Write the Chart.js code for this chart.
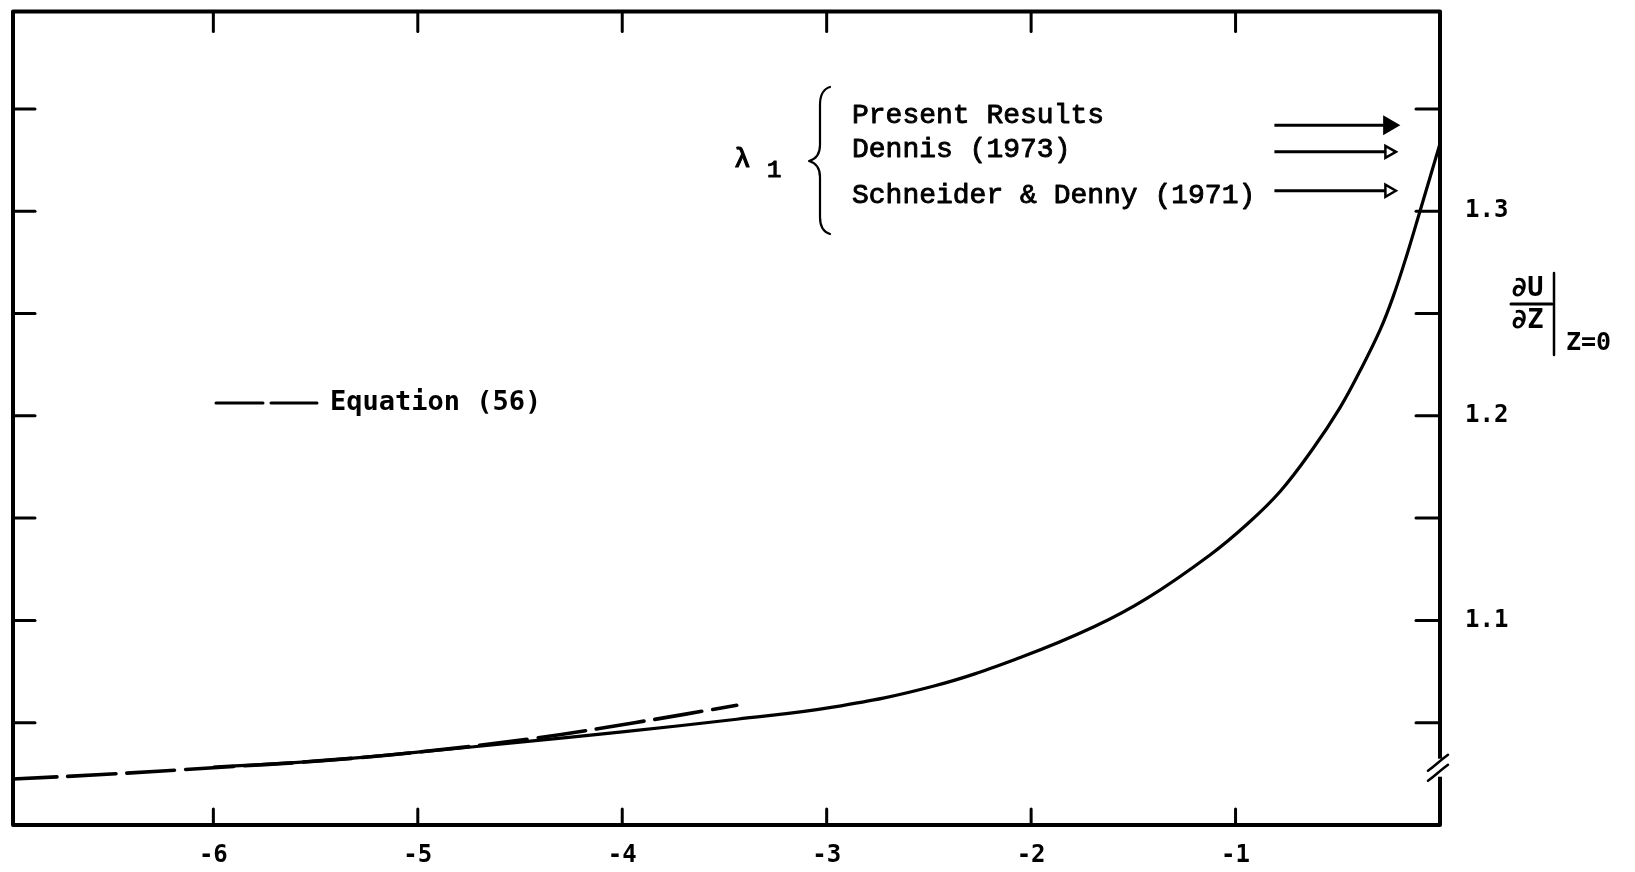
<!DOCTYPE html>
<html>
<head>
<meta charset="utf-8">
<script src="https://cdn.jsdelivr.net/npm/chart.js@4.4.1/dist/chart.umd.min.js"></script>
<style>
  html, body { margin: 0; padding: 0; background: #fff; }
  #wrap { width: 1635px; height: 872px; position: relative; }
</style>
</head>
<body>
<div id="wrap"><canvas id="chart"></canvas></div>
<script>
// solid curve: du/dz at z=0 vs x
const curveX = [-6.0, -5.5, -5.0, -4.5, -4.0, -3.44, -2.97, -2.48, -2.05, -1.69, -1.43, -1.125, -0.944, -0.782, -0.621, -0.489, -0.391, -0.293, -0.230, -0.161, -0.098, 0];
const curveY = [1.0283, 1.0312, 1.0356, 1.0405, 1.0455, 1.0517, 1.0576, 1.0678, 1.082, 1.097, 1.111, 1.132, 1.147, 1.163, 1.184, 1.204, 1.222, 1.242, 1.258, 1.279, 1.300, 1.333];

// dashed: Equation (56)
const eqX = [-7.0, -6.5, -6.0, -5.5, -5.0, -4.43, -3.94, -3.44];
const eqY = [1.0224, 1.0249, 1.0280, 1.0312, 1.0356, 1.0424, 1.0500, 1.0585];

// lambda_1 arrows
const lambdaNames = ["Present Results", "Dennis (1973)", "Schneider & Denny (1971)"];
const lambdaValues = [1.342, 1.329, 1.310];
const arrowX = [-0.81, -0.25];

// ticks
const xTicks = [-6, -5, -4, -3, -2, -1];
const xTickLabels = ["-6", "-5", "-4", "-3", "-2", "-1"];
const yTicks = [1.05, 1.10, 1.15, 1.20, 1.25, 1.30, 1.35];
const yTickLabels = ["", "1.1", "", "1.2", "", "1.3", ""];

const INK = "#000";

const pts = (xs, ys) => xs.map((x, i) => ({ x: x, y: ys[i] }));

const datasets = [
  {
    data: pts(curveX, curveY),
    borderColor: INK, borderWidth: 3.2, pointRadius: 0,
    tension: 0.4, fill: false
  },
  {
    data: pts(eqX, eqY),
    borderColor: INK, borderWidth: 3.6, pointRadius: 0,
    borderDash: [48, 11], borderCapStyle: "round",
    tension: 0.4, fill: false
  }
];

lambdaValues.forEach((v, i) => {
  datasets.push({
    data: arrowX.map(x => ({ x: x, y: v })),
    borderColor: INK, borderWidth: 3,
    pointRadius: [0, i === 0 ? 9 : 7],
    pointStyle: "triangle", rotation: 90,
    pointBackgroundColor: i === 0 ? INK : "#fff",
    pointBorderColor: INK, pointBorderWidth: 2.5,
    fill: false
  });
});

function inkText(ctx, s, x, y, w) {
  ctx.fillText(s, x, y);
  ctx.lineWidth = w;
  ctx.strokeText(s, x, y);
}

// frame, inward ticks, break mark and annotations
const decor = {
  id: "decor",
  afterDraw(chart) {
    const ctx = chart.ctx;
    const a = chart.chartArea;
    const xs = chart.scales.x, ys = chart.scales.y;
    ctx.save();
    ctx.strokeStyle = INK;
    ctx.fillStyle = INK;
    ctx.lineCap = "round";
    ctx.lineJoin = "round";

    // frame
    ctx.lineWidth = 4;
    ctx.strokeRect(a.left, a.top, a.right - a.left, a.bottom - a.top);

    // inward ticks
    ctx.lineWidth = 3;
    xTicks.forEach(v => {
      const px = xs.getPixelForValue(v);
      ctx.beginPath(); ctx.moveTo(px, a.bottom); ctx.lineTo(px, a.bottom - 16); ctx.stroke();
      ctx.beginPath(); ctx.moveTo(px, a.top); ctx.lineTo(px, a.top + 20); ctx.stroke();
    });
    yTicks.forEach(v => {
      const py = ys.getPixelForValue(v);
      ctx.beginPath(); ctx.moveTo(a.left, py); ctx.lineTo(a.left + 22, py); ctx.stroke();
      ctx.beginPath(); ctx.moveTo(a.right, py); ctx.lineTo(a.right - 24, py); ctx.stroke();
    });

    // axis break on right edge
    const by = ys.getPixelForValue(1.028);
    ctx.fillStyle = "#fff";
    ctx.fillRect(a.right - 4, by - 9, 8, 18);
    ctx.fillStyle = INK;
    ctx.lineWidth = 2.5;
    [-5, 5].forEach(d => {
      ctx.beginPath();
      ctx.moveTo(a.right - 12, by + d + 8);
      ctx.bezierCurveTo(a.right - 5, by + d + 3, a.right + 1, by + d - 3, a.right + 8, by + d - 8);
      ctx.stroke();
    });

    // Equation (56) key
    ctx.lineWidth = 3;
    ctx.beginPath(); ctx.moveTo(216, 403); ctx.lineTo(263, 403); ctx.stroke();
    ctx.beginPath(); ctx.moveTo(271, 403); ctx.lineTo(317, 403); ctx.stroke();
    ctx.font = "bold 27px 'DejaVu Sans Mono'";
    ctx.textBaseline = "middle";
    ctx.textAlign = "left";
    ctx.fillText("Equation (56)", 330, 403);

    // lambda_1 brace and names
    ctx.font = "28px 'Liberation Mono'";
    inkText(ctx, lambdaNames[0], 852, 116, 0.9);
    inkText(ctx, lambdaNames[1], 852, 150, 0.9);
    inkText(ctx, lambdaNames[2], 852, 196, 0.9);
    ctx.font = "28px 'Liberation Mono'";
    inkText(ctx, "\u03bb", 734, 160, 1.2);
    ctx.font = "24px 'Liberation Mono'";
    inkText(ctx, "1", 767, 171, 1.2);

    ctx.lineWidth = 2.2;
    ctx.beginPath();
    ctx.moveTo(830, 87);
    ctx.quadraticCurveTo(820, 90, 820, 105);
    ctx.lineTo(820, 145);
    ctx.quadraticCurveTo(820, 158, 809, 161);
    ctx.quadraticCurveTo(820, 164, 820, 177);
    ctx.lineTo(820, 217);
    ctx.quadraticCurveTo(820, 231, 830, 234);
    ctx.stroke();

    // y axis title
    ctx.font = "bold 27px 'DejaVu Sans Mono'";
    ctx.textAlign = "left";
    ctx.fillText("\u2202U", 1511, 289);
    ctx.fillText("\u2202Z", 1511, 321);
    ctx.lineWidth = 3;
    ctx.beginPath(); ctx.moveTo(1511, 304); ctx.lineTo(1552, 304); ctx.stroke();
    ctx.lineWidth = 2.5;
    ctx.beginPath(); ctx.moveTo(1554, 273); ctx.lineTo(1554, 355); ctx.stroke();
    ctx.font = "bold 25px 'DejaVu Sans Mono'";
    ctx.fillText("Z=0", 1566, 343);

    ctx.restore();
  }
};

new Chart(document.getElementById("chart"), {
  type: "line",
  data: { datasets: datasets },
  options: {
    responsive: true,
    maintainAspectRatio: false,
    animation: false,
    devicePixelRatio: 1,
    layout: { padding: { left: 13, top: 10, right: 0, bottom: 0 } },
    plugins: { legend: { display: false }, tooltip: { enabled: false } },
    scales: {
      x: {
        type: "linear", position: "bottom",
        min: -6.98, max: 0,
        grid: { display: false, drawTicks: false },
        border: { display: false },
        afterBuildTicks: s => { s.ticks = xTicks.map(v => ({ value: v })); },
        afterFit: s => { s.height = 47; s.paddingLeft = 0; s.paddingRight = 0; },
        ticks: {
          color: INK, padding: 16,
          font: { family: "'DejaVu Sans Mono'", size: 24, weight: "bold" },
          callback: (v) => xTickLabels[xTicks.indexOf(v)] ?? ""
        }
      },
      y: {
        type: "linear", position: "right",
        min: 1.0, max: 1.3976,
        grid: { display: false, drawTicks: false },
        border: { display: false },
        afterBuildTicks: s => { s.ticks = yTicks.map(v => ({ value: v })); },
        afterFit: s => { s.width = 195; s.paddingTop = 0; s.paddingBottom = 0; },
        ticks: {
          color: INK, padding: 25,
          font: { family: "'DejaVu Sans Mono'", size: 24, weight: "bold" },
          callback: (v) => {
            const i = yTicks.findIndex(t => Math.abs(t - v) < 1e-9);
            return i >= 0 ? yTickLabels[i] : "";
          }
        }
      }
    }
  },
  plugins: [decor]
});
</script>
</body>
</html>
